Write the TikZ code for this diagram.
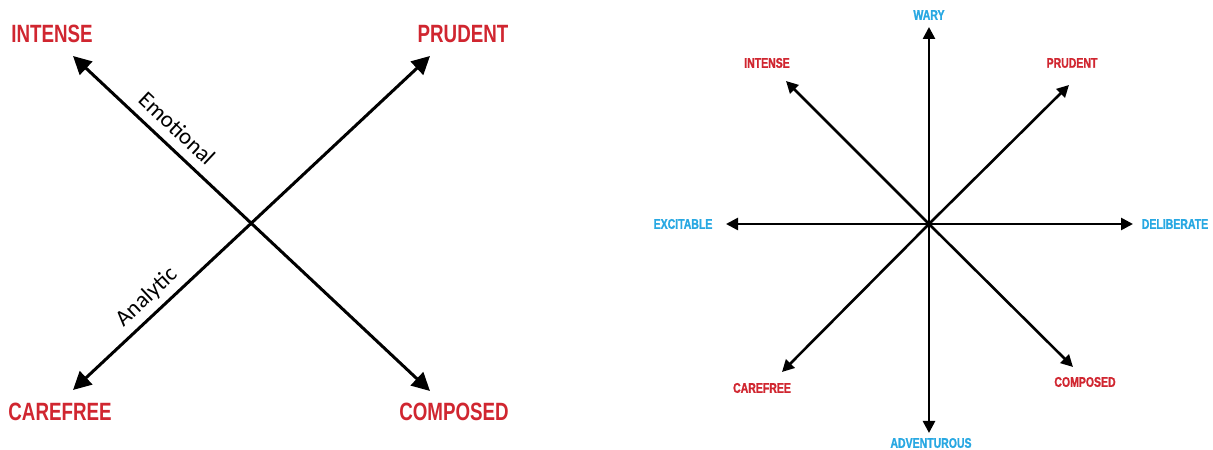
\documentclass[tikz,border=0pt]{standalone}
\usepackage{fontspec}
\usetikzlibrary{arrows.meta}
\newfontfamily\condfont[FakeStretch=0.75]{Liberation Sans}
\newfontfamily\condheavy[FakeStretch=0.75,FakeBold=1.2]{Liberation Sans Bold}
\newfontfamily\axisfont{Carlito}
\definecolor{trred}{RGB}{208,38,48}
\definecolor{trblue}{RGB}{40,168,226}
\tikzset{
  x=1bp, y=-1bp,
  bigtrait/.style={text=trred, inner sep=0pt, font=\condfont\bfseries\fontsize{25bp}{30bp}\selectfont},
  smalltrait/.style={inner sep=0pt, font=\condheavy\fontsize{14bp}{16bp}\selectfont},
  smallred/.style={smalltrait, text=trred},
  smallblue/.style={smalltrait, text=trblue},
  bigaxis/.style={line width=3bp, {Triangle[length=18bp,width=18bp]}-{Triangle[length=18bp,width=18bp]}},
  smallarrow/.style={line width=2.6bp, -{Triangle[length=12bp,width=12bp]}},
  axislabel/.style={font=\axisfont\fontsize{23bp}{27bp}\selectfont, sloped, inner sep=0pt}
}
\begin{document}
\begin{tikzpicture}
\useasboundingbox (0,0) rectangle (1213,450);

% ---- two-axis chart ----
\node[bigtrait] (lint) at (52,34) {INTENSE};
\node[bigtrait] (lpru) at (463,34) {PRUDENT};
\node[bigtrait] (lcar) at (60,412) {CAREFREE};
\node[bigtrait] (lcom) at (454,412) {COMPOSED};
\coordinate (tint) at (73,56);
\coordinate (tpru) at (430,56);
\coordinate (tcar) at (73,390);
\coordinate (tcom) at (430,391);
\draw[bigaxis] (tint) -- node[axislabel, pos=0.256, above=9bp] (emo) {Emotional} (tcom);
\draw[bigaxis] (tcar) -- node[axislabel, pos=0.24, above=6bp] (ana) {Analytic} (tpru);

% ---- eight-direction chart ----
\coordinate (c) at (929,224);
\node[smallblue] (wary) at (929,15) {WARY};
\node[smallblue] (adv) at (931,443) {ADVENTUROUS};
\node[smallblue] (exc) at (683,224) {EXCITABLE};
\node[smallblue] (del) at (1175,224) {DELIBERATE};
\node[smallred] (rint) at (767,63) {INTENSE};
\node[smallred] (rpru) at (1072,63) {PRUDENT};
\node[smallred] (rcar) at (762,388) {CAREFREE};
\node[smallred] (rcom) at (1085,382) {COMPOSED};
\coordinate (awary) at (929,27);
\coordinate (aadv) at (929,433);
\coordinate (aexc) at (726,224);
\coordinate (adel) at (1133,224);
\coordinate (aint) at (786,81);
\coordinate (apru) at (1069,85);
\coordinate (acar) at (782,372);
\coordinate (acom) at (1073,367);
\foreach \t in {awary,aadv,aexc,adel,aint,apru,acar,acom}
  \draw[smallarrow] (c) -- (\t);
\end{tikzpicture}
\end{document}
